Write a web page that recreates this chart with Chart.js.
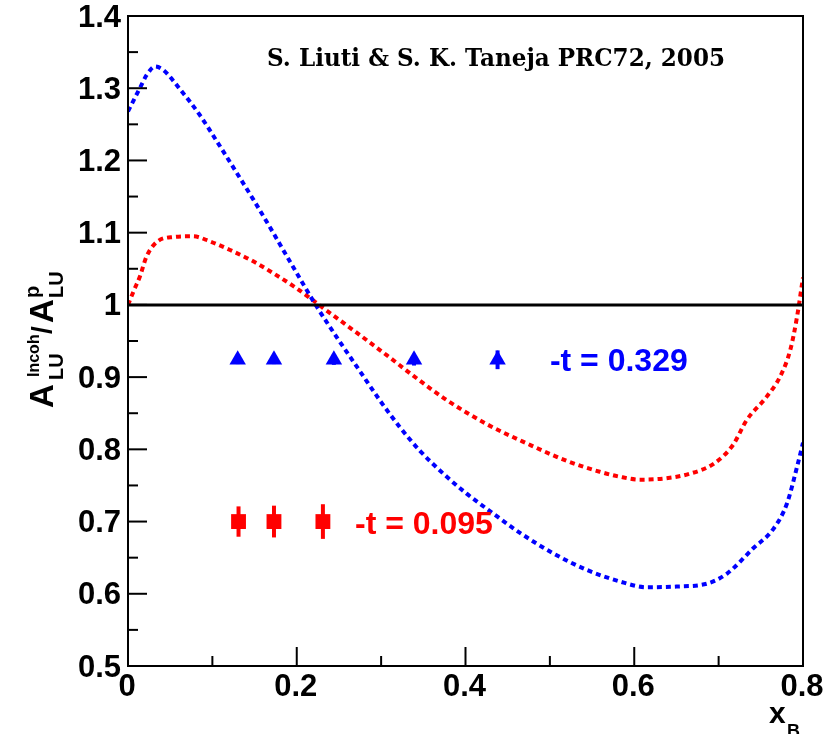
<!DOCTYPE html>
<html><head><meta charset="utf-8">
<script src="https://cdn.jsdelivr.net/npm/chart.js@4"></script>
<style>html,body{margin:0;padding:0;background:#fff}canvas{display:block}</style>
</head><body>
<canvas id="c" width="838" height="734"></canvas>
<script>
// ---- data ----
const curveX_t0329 = [0.000,0.014,0.022,0.032,0.042,0.062,0.085,0.105,0.125,0.149,0.172,0.180,0.204,0.224,0.251,0.275,0.299,0.322,0.346,0.374,0.401,0.433,0.465,0.504,0.544,0.583,0.615,0.650,0.686,0.710,0.741,0.765,0.781,0.793,0.800];
const curveY_t0329 = [1.268,1.300,1.318,1.330,1.325,1.298,1.263,1.227,1.190,1.145,1.100,1.084,1.036,0.997,0.949,0.908,0.867,0.831,0.798,0.766,0.739,0.711,0.684,0.656,0.633,0.617,0.609,0.610,0.614,0.628,0.663,0.690,0.725,0.776,0.809];
const curveX_t0095 = [0.000,0.007,0.014,0.022,0.034,0.054,0.077,0.097,0.121,0.149,0.172,0.196,0.222,0.231,0.267,0.307,0.338,0.378,0.425,0.473,0.520,0.559,0.583,0.607,0.638,0.665,0.694,0.717,0.733,0.757,0.773,0.785,0.793,0.800];
const curveY_t0095 = [1.000,1.020,1.039,1.067,1.087,1.094,1.095,1.088,1.076,1.060,1.044,1.026,1.004,0.996,0.965,0.930,0.902,0.868,0.835,0.808,0.784,0.769,0.762,0.758,0.760,0.766,0.780,0.806,0.840,0.873,0.901,0.938,0.984,1.038];
const pointsX_t0329 = [0.130,0.173,0.244,0.339,0.438];
const pointsY_t0329 = [0.924,0.924,0.924,0.924,0.924];
const pointsErr_t0329 = [0.006,0.006,0.007,0.008,0.013];
const pointsX_t0095 = [0.131,0.173,0.231];
const pointsY_t0095 = [0.700,0.700,0.700];
const pointsErr_t0095 = [0.021,0.022,0.024];
const refLineY = 1.0;
const xLimits = [0, 0.8];
const yLimits = [0.5, 1.4];
const xTickStep = 0.1, yTickStep = 0.05;
const seriesLabels = ['-t = 0.329', '-t = 0.095'];
const headerText = 'S. Liuti & S. K. Taneja PRC72, 2005';

const BLUE = '#0000ff', RED = '#ff0000';
const SANS = '"Liberation Sans", Arial, sans-serif';
const toPts = (xs, ys) => xs.map((x, i) => ({x, y: ys[i]}));

const errorBars = [
  {x: pointsX_t0329, y: pointsY_t0329, e: pointsErr_t0329, color: BLUE},
  {x: pointsX_t0095, y: pointsY_t0095, e: pointsErr_t0095, color: RED}
];

const rootPlugin = {
  id: 'rootStyle',
  beforeDatasetsDraw(chart) {
    const {ctx, scales: {x: xs, y: ys}} = chart;
    ctx.save();
    ctx.lineWidth = 4;
    ctx.lineCap = 'butt';
    errorBars.forEach(s => {
      ctx.strokeStyle = s.color;
      s.x.forEach((xv, i) => {
        const px = xs.getPixelForValue(xv);
        ctx.beginPath();
        ctx.moveTo(px, ys.getPixelForValue(s.y[i] - s.e[i]));
        ctx.lineTo(px, ys.getPixelForValue(s.y[i] + s.e[i]));
        ctx.stroke();
      });
    });
    ctx.restore();
  },
  afterDraw(chart) {
    const {ctx, chartArea: a, scales: {x: xs, y: ys}} = chart;
    ctx.save();
    // frame
    ctx.strokeStyle = '#000';
    ctx.lineWidth = 2;
    ctx.strokeRect(a.left, a.top, a.right - a.left, a.bottom - a.top);
    // inward ticks
    ys.ticks.forEach(t => {
      const major = Math.abs(Math.round(t.value * 10) - t.value * 10) < 1e-6;
      const py = ys.getPixelForValue(t.value);
      ctx.beginPath();
      ctx.moveTo(a.left, py);
      ctx.lineTo(a.left + (major ? 19 : 10), py);
      ctx.stroke();
    });
    xs.ticks.forEach(t => {
      const n = Math.round(t.value * 10);
      const major = n % 2 === 0;
      const px = xs.getPixelForValue(t.value);
      ctx.beginPath();
      ctx.moveTo(px, a.bottom);
      ctx.lineTo(px, a.bottom - (major ? 19 : 10));
      ctx.stroke();
    });
    // series labels
    ctx.font = 'bold 32px ' + SANS;
    ctx.textBaseline = 'middle';
    ctx.textAlign = 'left';
    ctx.fillStyle = BLUE;
    ctx.fillText(seriesLabels[0], xs.getPixelForValue(0.5), ys.getPixelForValue(0.921));
    ctx.fillStyle = RED;
    ctx.fillText(seriesLabels[1], xs.getPixelForValue(0.269), ys.getPixelForValue(0.695));
    // header
    ctx.fillStyle = '#000';
    ctx.textBaseline = 'alphabetic';
    ctx.font = 'bold 25px "DejaVu Serif", serif';
    const w = ctx.measureText(headerText).width;
    ctx.save();
    ctx.translate(267, 66);
    ctx.scale(458 / w, 1);
    ctx.fillText(headerText, 0, 0);
    ctx.restore();
    // x axis title
    ctx.font = 'bold 30px ' + SANS;
    ctx.fillText('x', 769, 723);
    ctx.font = 'bold 18px ' + SANS;
    ctx.fillText('B', 787, 737);
    // y axis title (rotated)
    ctx.save();
    ctx.translate(53, 408);
    ctx.rotate(-Math.PI / 2);
    const big = 'bold 33px ' + SANS, small = 'bold 20px ' + SANS;
    ctx.font = big; ctx.fillText('A', 0, 0);
    ctx.font = small; ctx.fillText('LU', 28, 10);
    ctx.font = 'bold 16px ' + SANS; ctx.fillText('Incoh', 31, -14);
    ctx.font = 'bold 28px ' + SANS; ctx.fillText('/', 74, -2);
    ctx.font = big; ctx.fillText('A', 85, 0);
    ctx.font = small; ctx.fillText('p', 110, -14);
    ctx.font = small; ctx.fillText('LU', 110, 10);
    ctx.restore();
    ctx.restore();
  }
};

const tickFont = {family: SANS, size: 31, weight: 'bold', lineHeight: 1};
const curveStyle = {showLine: true, borderWidth: 4, borderDash: [5, 4], pointRadius: 0,
  cubicInterpolationMode: 'monotone', borderCapStyle: 'butt'};

new Chart(document.getElementById('c'), {
  type: 'scatter',
  data: {
    datasets: [
      {data: toPts(pointsX_t0329, pointsY_t0329), pointStyle: 'triangle', pointRadius: 9.5,
       backgroundColor: BLUE, borderColor: BLUE, borderWidth: 0, showLine: false},
      {data: toPts(pointsX_t0095, pointsY_t0095), pointStyle: 'rect', pointRadius: 10.5,
       backgroundColor: RED, borderColor: RED, borderWidth: 0, showLine: false},
      {data: [{x: xLimits[0], y: refLineY}, {x: xLimits[1], y: refLineY}], showLine: true,
       borderColor: '#000', borderWidth: 3, pointRadius: 0},
      Object.assign({data: toPts(curveX_t0329, curveY_t0329), borderColor: BLUE}, curveStyle),
      Object.assign({data: toPts(curveX_t0095, curveY_t0095), borderColor: RED}, curveStyle)
    ]
  },
  options: {
    responsive: false,
    animation: false,
    events: [],
    layout: {padding: {left: 0, top: 16, right: 35, bottom: 0}},
    plugins: {legend: {display: false}, tooltip: {enabled: false}},
    scales: {
      x: {
        type: 'linear', min: xLimits[0], max: xLimits[1],
        grid: {display: false, drawTicks: false}, border: {display: false},
        ticks: {
          stepSize: xTickStep, autoSkip: false, maxRotation: 0, padding: 6,
          color: '#000', font: tickFont, labelOffset: -1,
          callback: v => { const n = Math.round(v * 10); return n % 2 === 0 ? String(n / 10) : ''; }
        },
        afterFit: s => { s.height = 68; s.paddingLeft = 0; s.paddingRight = 0; }
      },
      y: {
        type: 'linear', min: yLimits[0], max: yLimits[1],
        grid: {display: false, drawTicks: false}, border: {display: false},
        ticks: {
          stepSize: yTickStep, autoSkip: false, padding: 7,
          color: '#000', font: tickFont, labelOffset: 2,
          callback: v => { const n = Math.round(v * 10); return Math.abs(n - v * 10) < 1e-6 ? String(n / 10) : ''; }
        },
        afterFit: s => { s.width = 128; s.paddingTop = 0; s.paddingBottom = 0; }
      }
    }
  },
  plugins: [rootPlugin]
});
</script>
</body></html>
